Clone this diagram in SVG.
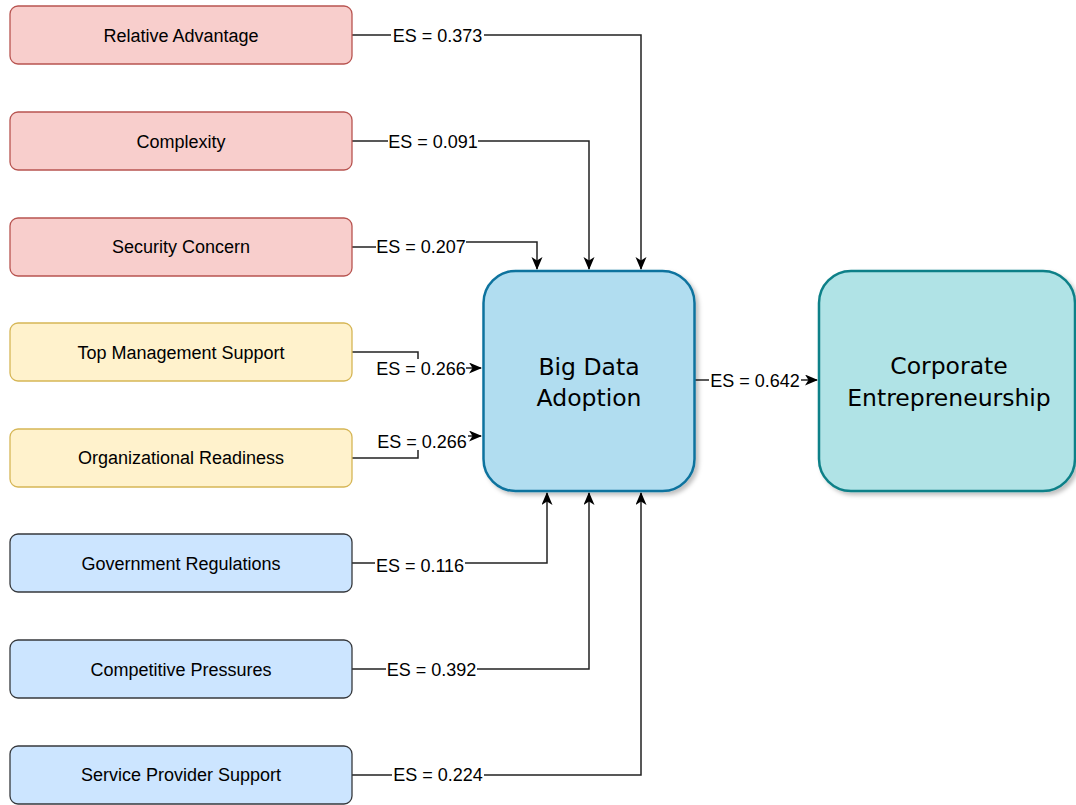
<svg xmlns="http://www.w3.org/2000/svg" width="1076" height="805" viewBox="0 0 1076 805">
<defs>
<marker id="arr" markerWidth="14" markerHeight="12" refX="12" refY="5.5" orient="auto" markerUnits="userSpaceOnUse">
<path d="M0,0 L13,5.5 L0,11 L3.5,5.5 z" fill="#000"/>
</marker>
<filter id="sh" x="-10%" y="-10%" width="130%" height="130%">
<feDropShadow dx="3" dy="3" stdDeviation="2" flood-color="#000" flood-opacity="0.25"/>
</filter>
<style>
.red{fill:#f8cecc;stroke:#b85450;stroke-width:1.3}
.yel{fill:#fff2cc;stroke:#d6b656;stroke-width:1.3}
.blu{fill:#cce5ff;stroke:#36393d;stroke-width:1.3}
.lbl{font-family:"Liberation Sans",Arial,sans-serif;font-size:18px;fill:#000;text-anchor:middle}
.big{font-family:"DejaVu Sans",sans-serif;font-size:23.5px;fill:#000;text-anchor:middle}
.ln{fill:none;stroke:#222;stroke-width:1.5}
.bg{fill:#fff}
</style>
</defs>
<rect width="1076" height="805" fill="#fff"/>

<g id="connectors">
<path class="ln" d="M352,35 H641 V269" marker-end="url(#arr)"/>
<path class="ln" d="M352,141 H589 V269" marker-end="url(#arr)"/>
<path class="ln" d="M352,247 H418 V242 H537 V269" marker-end="url(#arr)"/>
<path class="ln" d="M352,352 H418 V368 H481" marker-end="url(#arr)"/>
<path class="ln" d="M352,458 H418 V436 H481" marker-end="url(#arr)"/>
<path class="ln" d="M352,563 H547 V493" marker-end="url(#arr)"/>
<path class="ln" d="M352,669 H589 V493" marker-end="url(#arr)"/>
<path class="ln" d="M352,775 H641 V493" marker-end="url(#arr)"/>
<path class="ln" d="M695,380 H817" marker-end="url(#arr)"/>

<rect class="bg" x="391" y="27" width="93" height="17"/>
<text class="lbl" x="437.5" y="41.5">ES = 0.373</text>
<rect class="bg" x="388" y="133" width="90" height="17"/>
<text class="lbl" x="433" y="147.5">ES = 0.091</text>
<rect class="bg" x="376" y="237" width="90" height="18"/>
<text class="lbl" x="421" y="253">ES = 0.207</text>
<rect class="bg" x="376" y="359" width="90" height="18"/>
<text class="lbl" x="421" y="374.5">ES = 0.266</text>
<rect class="bg" x="377" y="432" width="91" height="18"/>
<text class="lbl" x="422" y="447.5">ES = 0.266</text>
<rect class="bg" x="375" y="556" width="90" height="18"/>
<text class="lbl" x="420" y="571.5">ES = 0.116</text>
<rect class="bg" x="386" y="661" width="91" height="17"/>
<text class="lbl" x="431.5" y="675.5">ES = 0.392</text>
<rect class="bg" x="392" y="766" width="92" height="17"/>
<text class="lbl" x="438" y="780.5">ES = 0.224</text>
<rect class="bg" x="709" y="372" width="92" height="17"/>
<text class="lbl" x="755" y="386.5">ES = 0.642</text>
</g>

<g id="n1"><rect class="red" x="10" y="6" width="342" height="58" rx="8"/><text class="lbl" x="181" y="41.5">Relative Advantage</text></g>
<g id="n2"><rect class="red" x="10" y="112" width="342" height="58" rx="8"/><text class="lbl" x="181" y="147.5">Complexity</text></g>
<g id="n3"><rect class="red" x="10" y="218" width="342" height="58" rx="8"/><text class="lbl" x="181" y="253">Security Concern</text></g>
<g id="n4"><rect class="yel" x="10" y="323" width="342" height="58" rx="8"/><text class="lbl" x="181" y="358.5">Top Management Support</text></g>
<g id="n5"><rect class="yel" x="10" y="429" width="342" height="58" rx="8"/><text class="lbl" x="181" y="464">Organizational Readiness</text></g>
<g id="n6"><rect class="blu" x="10" y="534" width="342" height="58" rx="8"/><text class="lbl" x="181" y="569.5">Government Regulations</text></g>
<g id="n7"><rect class="blu" x="10" y="640" width="342" height="58" rx="8"/><text class="lbl" x="181" y="675.5">Competitive Pressures</text></g>
<g id="n8"><rect class="blu" x="10" y="746" width="342" height="58" rx="8"/><text class="lbl" x="181" y="781">Service Provider Support</text></g>

<g id="bda"><rect x="483.5" y="271" width="211" height="220" rx="32" fill="#b1ddf0" stroke="#10739e" stroke-width="2.5" filter="url(#sh)"/>
<text class="big" x="589" y="375">Big Data</text><text class="big" x="589" y="406">Adoption</text></g>
<g id="ce"><rect x="819" y="271" width="256" height="220" rx="32" fill="#b0e3e6" stroke="#0e8088" stroke-width="2.5" filter="url(#sh)"/>
<text class="big" x="949" y="374">Corporate</text><text class="big" x="949" y="406">Entrepreneurship</text></g>
</svg>
